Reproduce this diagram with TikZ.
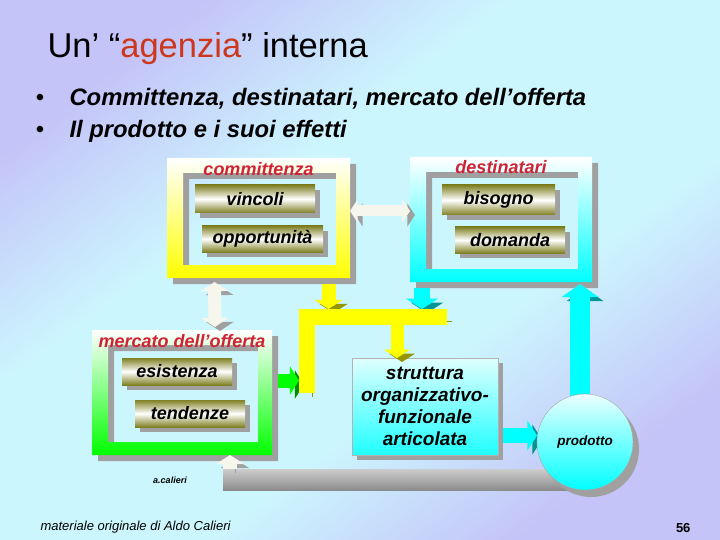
\documentclass[tikz,border=0pt]{standalone}
\usepackage{fontspec}
\setmainfont{Liberation Sans}
\usetikzlibrary{calc,arrows.meta,shadows}

\definecolor{bglav}{RGB}{196,196,248}
\definecolor{bgcy}{RGB}{204,246,254}
\definecolor{lblred}{RGB}{208,34,52}
\definecolor{ttlred}{RGB}{204,56,30}
\definecolor{olv}{RGB}{128,128,36}
\definecolor{shgray}{RGB}{160,160,160}
\definecolor{yel}{RGB}{255,255,0}
\definecolor{cya}{RGB}{0,255,255}
\definecolor{grn}{RGB}{0,255,0}
\definecolor{ydark}{RGB}{150,150,0}
\definecolor{cdark}{RGB}{0,150,150}
\definecolor{gdark}{RGB}{0,140,0}
\definecolor{ivory}{RGB}{246,246,236}

\pgfdeclarehorizontalshading{slidebg}{100bp}{color(0bp)=(bglav); color(25bp)=(bglav); color(40bp)=(bgcy); color(60bp)=(bgcy); color(75bp)=(bglav); color(100bp)=(bglav)}

\tikzset{
  panelbox/.style={rectangle, inner sep=0pt, outer sep=0pt},
  paneltitle/.style={text=lblred, inner sep=0pt, font=\fontsize{18}{20}\selectfont\bfseries\itshape},
  btn/.style={rectangle, inner sep=0pt, outer sep=0pt, top color=olv, bottom color=olv, middle color=white,
    font=\fontsize{18}{20}\selectfont\bfseries\itshape,
    drop shadow={shadow xshift=5pt, shadow yshift=-5pt, fill=shgray, opacity=1}},
  blocktip/.style={-{Triangle[length=0pt 0.65, width=0pt #1]}},
  blocktip/.default=2,
  dbltip/.style={{Triangle[length=0pt 0.7, width=0pt 2.1]}-{Triangle[length=0pt 0.7, width=0pt 2.1]}},
  extruded/.style={preaction={draw=#1, transform canvas={xshift=5pt, yshift=-4pt}}},
}

% frame with a hole, its shadow and a top-down shading
\def\panel(#1)[#2]{%
  \fill[shgray, even odd rule, transform canvas={xshift=6pt, yshift=-6pt}]
    (#1.north west) rectangle (#1.south east)
    ([shift={(16,15)}]#1.north west) rectangle ([shift={(-14,-13)}]#1.south east);
  \shade[top color=white, bottom color=#2, even odd rule]
    (#1.north west) rectangle (#1.south east)
    ([shift={(16,15)}]#1.north west) rectangle ([shift={(-14,-13)}]#1.south east);
}

\begin{document}
\begin{tikzpicture}[x=1pt,y=-1pt]
	%%%%% START %%%%%
	
	\shade[shading=slidebg, shading angle=-53] (0,0) rectangle (720,540);
	\useasboundingbox (0,0) rectangle (720,540);
	
	\node[anchor=base west, font=\fontsize{34.5}{38}\selectfont] (title) at (44,58) {Un’ “\textcolor{ttlred}{agenzia}” interna};
	\node[anchor=base, font=\fontsize{24}{26}\selectfont] (dot1) at (40,106) {•};
	\node[anchor=base west, font=\fontsize{23.8}{26}\selectfont\bfseries\itshape] (item1) at (66,106) {Committenza, destinatari, mercato dell’offerta};
	\node[anchor=base, font=\fontsize{24}{26}\selectfont] (dot2) at (40,138) {•};
	\node[anchor=base west, font=\fontsize{23.8}{26}\selectfont\bfseries\itshape] (item2) at (66,138) {Il prodotto e i suoi effetti};
	
	% feedback pipe under the picture
	\node[panelbox, minimum width=180, minimum height=125] (mk) at (182,392.5) {};
	\node[circle, inner sep=0pt, outer sep=0pt, minimum size=96] (pr) at (585,442) {};
	\coordinate (fb) at ([shift={(48,24.5)}]mk.south);
	\coordinate (fe) at (pr.center |- fb);
	\shade[top color=black!20, bottom color=black!45] ([shift={(-7,-10.5)}]fb) rectangle ([shift={(0,10.5)}]fe);
	
	% the three frames
	\node[panelbox, minimum width=183, minimum height=120] (cm) at (258.5,218) {};
	\node[panelbox, minimum width=182, minimum height=125] (ds) at (501,219.5) {};
	\panel(cm)[yel]
	\panel(ds)[cya]
	\panel(mk)[grn]
	
	\node[paneltitle] (cmt) at ([shift={(0,11)}]cm.north) {committenza};
	\node[paneltitle] (dst) at ([shift={(0,10)}]ds.north) {destinatari};
	\node[paneltitle] (mkt) at ([shift={(0,11)}]mk.north) {mercato dell'offerta};
	
	\node[btn, minimum width=120, minimum height=28] (vinc) at (255,199) {vincoli};
	\node[btn, minimum width=121, minimum height=26] (opp) at (262.5,239) {opportunità};
	\node[btn, minimum width=113, minimum height=30] (bis) at (498.5,200) {bisogno};
	\node[btn, minimum width=110, minimum height=26] (dom) at (510,240) {domanda};
	\node[btn, minimum width=110, minimum height=27] (esi) at (177,371.5) {esistenza};
	\node[btn, minimum width=110, minimum height=27] (ten) at (190,413.5) {tendenze};
	
	% white two-way arrows
	\draw[ivory, line width=11, dbltip, extruded=shgray] ([shift={(0,-7)}]cm.east) -- ([shift={(0,-8.5)}]ds.west);
	\draw[ivory, line width=13, dbltip, extruded=shgray] ([shift={(-44,4)}]cm.south) -- ([shift={(33,-3)}]mk.north);
	\draw[ivory, line width=14, blocktip, extruded=shgray] ([shift={(0,-10.5)}]fb) -- ([shift={(48,0)}]mk.south);
	
	% into the yellow bar
	\draw[yel, line width=14, blocktip, extruded=ydark] ([shift={(70,6)}]cm.south) -- ++(0,25);
	\draw[cya, line width=16, blocktip, extruded=cdark] ([shift={(-79,6)}]ds.south) -- ++(0,21);
	\draw[grn, line width=14, blocktip, extruded=gdark] ([shift={(6,-12)}]mk.east) -- ++(21,0);
	
	\coordinate (pl) at (307,393);
	\coordinate (pc) at (307,317);
	\coordinate (pe) at (447,317);
	\coordinate (ps) at (397,317);
	\draw[yel, line width=16, line join=miter, extruded=ydark] (pl) -- (pc) -- (pe);
	
	\node[rectangle, inner sep=0pt, outer sep=0pt, minimum width=146, minimum height=97, align=center,
	  top color=cya!12, bottom color=cya!88, draw=black!30,
	  font=\fontsize{19}{22}\selectfont\bfseries\itshape,
	  drop shadow={shadow xshift=5pt, shadow yshift=-5pt, fill=shgray, opacity=1}]
	  (st) at (425,406.5) {struttura\\organizzativo-\\funzionale\\articolata};
	\draw[yel, line width=13, blocktip, extruded=ydark] (ps) -- ([shift={(-28,0)}]st.north);
	
	\draw[cya, line width=15, blocktip, extruded=cdark] ([shift={(5,29)}]st.east) -- ([shift={(0,-6.5)}]pr.west);
	\draw[cya, line width=20, blocktip=1.8, extruded=cdark] ([shift={(-5,10)}]pr.north) -- ([shift={(79,2)}]ds.south);
	
	\node[circle, inner sep=0pt, outer sep=0pt, minimum size=96, top color=cya!8, bottom color=cya, draw=black!35,
	  font=\fontsize{13.5}{15}\selectfont\bfseries\itshape,
	  drop shadow={shadow xshift=6pt, shadow yshift=-7pt, fill=shgray, opacity=1}] (prc) at (pr) {prodotto};
	
	\node[font=\fontsize{9}{10}\selectfont\bfseries\itshape] (sig) at (170,480) {a.calieri};
	\node[anchor=base west, font=\fontsize{13}{15}\selectfont\itshape] (foot) at (37,530) {materiale originale di Aldo Calieri};
	\node[anchor=base east, font=\fontsize{13}{15}\selectfont\bfseries] (page) at (694,532) {56};
	
	%%%%% END %%%%%
\end{tikzpicture}
\end{document}
